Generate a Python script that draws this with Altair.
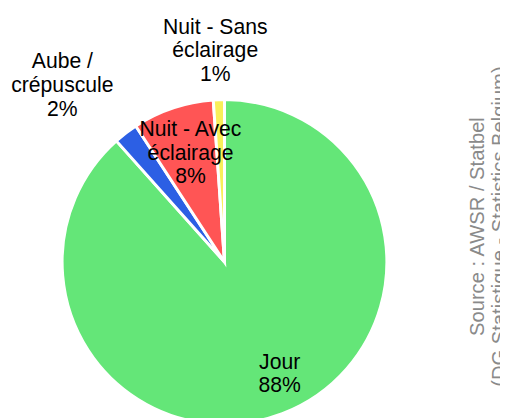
import altair as alt
import pandas as pd

categories = ["Jour", "Aube / crépuscule", "Nuit - Avec éclairage", "Nuit - Sans éclairage"]
label_lines = ["Jour", "Aube /\ncrépuscule", "Nuit - Avec\néclairage", "Nuit - Sans\néclairage"]
values = [88.4, 2.4, 8.1, 1.1]
pct_labels = ["88%", "2%", "8%", "1%"]
colors = ["#64E678", "#2C5FE4", "#FF5555", "#F9EF5A"]

df = pd.DataFrame({
    "cat": categories,
    "val": values,
    "ordre": list(range(len(categories))),
    "label": [f"{a}\n{b}" for a, b in zip(label_lines, pct_labels)],
})

FONT = "Liberation Sans"

base = alt.Chart(df)

pie = base.mark_arc(outerRadius=165, stroke="white", strokeWidth=3).encode(
    theta=alt.Theta("val:Q", stack=True),
    order=alt.Order("ordre:Q"),
    color=alt.Color("cat:N", scale=alt.Scale(domain=categories, range=colors), legend=None),
)

def label_layer(cat, radius, dx, dy):
    return base.transform_joinaggregate(
        total="sum(val)"
    ).transform_window(
        cum="sum(val)", sort=[alt.SortField("ordre")]
    ).transform_calculate(
        mid="(datum.cum - datum.val / 2) / datum.total"
    ).transform_filter(
        alt.datum.cat == cat
    ).mark_text(
        radius=radius, dx=dx, dy=dy, lineBreak="\n", font=FONT, fontSize=21.5,
        lineHeight=24, color="black", align="center", baseline="middle",
    ).encode(
        theta=alt.Theta("mid:Q", stack=None, scale=alt.Scale(domain=[0, 1], range=[0, 6.283185307179586])),
        text="label:N",
    )

labels = [
    label_layer(categories[0], 118, 14, -8),
    label_layer(categories[1], 220, -31, -28),
    label_layer(categories[2], 118, 3, -22),
    label_layer(categories[3], 214, -2, -24),
]

chart = alt.layer(pie, *labels).resolve_scale(theta="independent").properties(
    width=440,
    height=508,
    autosize=alt.AutoSizeParams(type="none"),
    padding={"left": 0, "top": 0, "right": 60, "bottom": 0},
    title=alt.TitleParams(
        text=["Source : AWSR / Statbel", "(DG Statistique - Statistics Belgium)"],
        orient="right", angle=270, anchor="middle", fontSize=20.5, font=FONT,
        fontWeight="normal", color="#8A8A8A", lineHeight=23, offset=0,
        dx=36, dy=-16,
    ),
).configure_view(stroke=None)

chart.save("out.html", embed_options={"renderer": "svg", "actions": False})
